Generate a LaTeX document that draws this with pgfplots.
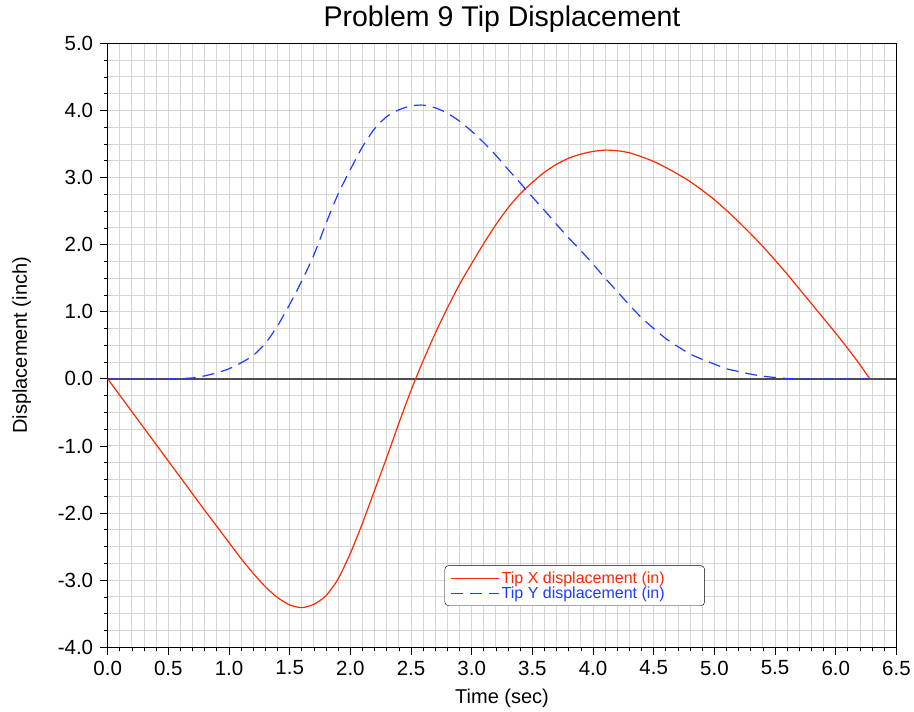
\documentclass[border=0pt]{standalone}
\usepackage{pgfplots}
\pgfplotsset{compat=1.18}
\usepackage{fontspec}
\setmainfont{Liberation Sans}
\definecolor{tipred}{RGB}{255,40,0}
\definecolor{tipblue}{RGB}{30,60,255}
\definecolor{gridgray}{RGB}{214,214,214}

\pgfplotstableread{
t v
0.00 0.00
0.20 -0.49
0.40 -0.98
0.60 -1.47
0.80 -1.96
1.00 -2.44
1.10 -2.68
1.20 -2.90
1.30 -3.10
1.40 -3.26
1.50 -3.37
1.60 -3.41
1.70 -3.36
1.80 -3.23
1.90 -2.98
2.00 -2.60
2.10 -2.15
2.20 -1.66
2.30 -1.17
2.40 -0.66
2.50 -0.17
2.60 0.27
2.70 0.68
2.80 1.06
2.90 1.41
3.00 1.72
3.10 2.02
3.20 2.30
3.30 2.55
3.40 2.76
3.50 2.93
3.60 3.08
3.70 3.20
3.80 3.29
3.90 3.35
4.00 3.39
4.10 3.41
4.20 3.40
4.30 3.37
4.40 3.31
4.50 3.24
4.60 3.15
4.70 3.05
4.80 2.94
4.90 2.81
5.00 2.67
5.10 2.51
5.20 2.34
5.30 2.16
5.40 1.97
5.50 1.77
5.60 1.56
5.70 1.34
5.80 1.12
5.90 0.90
6.00 0.68
6.10 0.45
6.20 0.21
6.28 0.00
}\tipx

\pgfplotstableread{
t v
0.00 0.00
0.50 0.00
0.60 0.003
0.70 0.015
0.80 0.045
0.90 0.09
1.00 0.15
1.10 0.24
1.20 0.35
1.30 0.53
1.40 0.79
1.50 1.11
1.60 1.46
1.70 1.85
1.80 2.32
1.90 2.76
2.00 3.12
2.10 3.46
2.20 3.73
2.30 3.91
2.40 4.01
2.50 4.07
2.60 4.08
2.70 4.04
2.80 3.96
2.90 3.84
3.00 3.69
3.10 3.52
3.20 3.33
3.30 3.12
3.40 2.92
3.50 2.71
3.60 2.51
3.70 2.30
3.80 2.10
3.90 1.91
4.00 1.71
4.10 1.50
4.20 1.30
4.30 1.10
4.40 0.91
4.50 0.75
4.60 0.60
4.70 0.48
4.80 0.37
4.90 0.29
5.00 0.22
5.10 0.15
5.20 0.11
5.30 0.07
5.40 0.04
5.50 0.02
5.60 0.005
5.70 0.00
6.28 0.00
}\tipy

\begin{document}
\begin{tikzpicture}
\begin{axis}[
  width=789pt, height=604pt, scale only axis,
  xmin=0, xmax=6.5, ymin=-4, ymax=5,
  xtick distance=0.5, ytick distance=1,
  minor x tick num=4, minor y tick num=3,
  grid=both,
  major grid style={gridgray, line width=1pt},
  minor grid style={gridgray, line width=1pt},
  tick align=outside, tick pos=left,
  major tick length=8pt, minor tick length=4pt,
  tick style={black, line width=0.8pt},
  axis line style={black, line width=1pt},
  /pgf/number format/assume math mode=true,
  xticklabel style={yshift=-2pt, /pgf/number format/.cd, fixed, fixed zerofill, precision=1},
  yticklabel style={xshift=-3pt, /pgf/number format/.cd, fixed, fixed zerofill, precision=1},
  tick label style={font=\fontsize{20.5}{24}\selectfont},
  label style={font=\fontsize{20}{24}\selectfont},
  title style={font=\fontsize{28.5}{32}\selectfont, yshift=1pt},
  title={Problem 9 Tip Displacement},
  xlabel={Time (sec)},
  ylabel={Displacement (inch)},
  xlabel style={yshift=-7pt},
  ylabel style={yshift=20pt},
  legend cell align=left,
  legend style={at={(axis cs:2.776,-2.78)}, anchor=north west,
    rounded corners=4pt,
    font=\fontsize{16}{18}\selectfont,
    inner xsep=6pt, inner ysep=4pt, row sep=-2pt,
    /tikz/every even column/.append style={column sep=0pt}},
  legend image code/.code={\draw[#1, line width=1pt] (0pt,0pt) -- (48pt,0pt);},
]
\addplot[draw=gray!60!black, line width=1.5pt, forget plot] coordinates {(0,0) (6.5,0)};
\addplot[draw=tipred, line width=1.2pt, smooth, tension=0.4] table[x=t, y=v] {\tipx};
\addlegendentry{\textcolor{tipred}{Tip X displacement (in)}\kern32pt}
\addplot[draw=tipblue, line width=1.2pt, smooth, tension=0.4, dash pattern=on 12pt off 7pt] table[x=t, y=v] {\tipy};
\addlegendentry{\textcolor{tipblue}{Tip Y displacement (in)}\kern32pt}
\end{axis}
\path ([xshift=-9pt]current bounding box.west);
\path ([yshift=3pt]current bounding box.north);
\end{tikzpicture}
\end{document}
